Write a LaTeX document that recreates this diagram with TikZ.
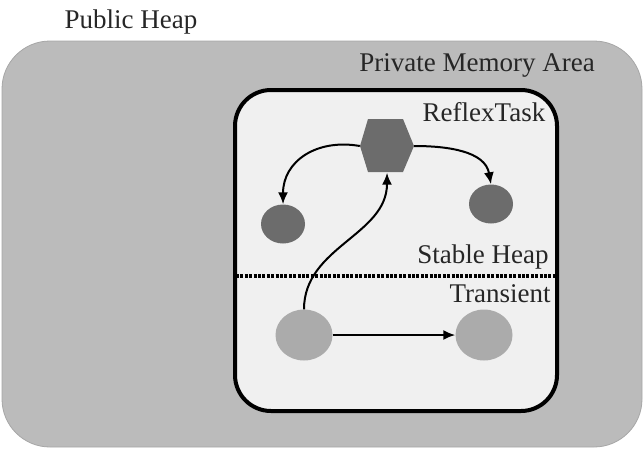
\documentclass[tikz,border=0pt]{standalone}
\usepackage{fontspec}
\setmainfont{Liberation Serif}
\usetikzlibrary{arrows.meta}
\definecolor{outerg}{HTML}{BBBBBB}
\definecolor{innerg}{HTML}{F0F0F0}
\definecolor{darkg}{HTML}{6C6C6C}
\definecolor{lightg}{HTML}{ABABAB}
\tikzset{
  lbl/.style={inner sep=0pt, font=\fontsize{27}{31}\selectfont, text=black!85},
  darkobj/.style={ellipse, fill=darkg, minimum width=44pt, minimum height=39pt, inner sep=0pt},
  lightobj/.style={ellipse, fill=lightg, minimum width=57pt, minimum height=51pt, inner sep=0pt},
  ref/.style={-{Latex[length=12pt,width=10pt]}, line width=2pt, black},
}
\usetikzlibrary{shapes.geometric}
\begin{document}
\begin{tikzpicture}[x=1pt,y=-1pt]
\useasboundingbox (0,0) rectangle (644,450);
% outer public heap
\draw[fill=outerg, draw=gray!70, line width=0.8pt, rounded corners=48pt] (2,41) rectangle (642,447);
\node[lbl] (pub) at (131,22) {Public Heap};
\node[lbl] (priv) at (477,65) {Private Memory Area};
% private area
\draw[fill=innerg, draw=black, line width=4pt, rounded corners=36pt] (235,90) rectangle (557,411);
\node[lbl] (rt) at (484,112) {ReflexTask};
\node[lbl] (sh) at (483,257) {Stable Heap};
\node[lbl] (tr) at (500,294) {Transient};
% divider
\draw[line width=3.4pt, dash pattern=on 3pt off 1.4pt] (236,276) -- (556,276);
% hexagon
\fill[darkg] (360,146) -- (368,119) -- (403,119) -- (414,146) -- (403,172) -- (368,172) -- cycle;
\node[minimum width=54pt, minimum height=53pt, inner sep=0pt] (hex) at (387,146) {};
\node[darkobj] (ld) at (283,224) {};
\node[darkobj] (rd) at (491,204) {};
\node[lightobj] (lt) at (304,335) {};
\node[lightobj] (rt2) at (484,335) {};
% connectors
\draw[ref] (hex.west) to[out=170,in=90,looseness=1.15] (ld.north);
\draw[ref] (hex.east) to[out=0,in=100] (rd.north);
\draw[ref] (lt.north) to[out=90,in=-90] (hex.south);
\draw[ref] (lt.east) -- (rt2.west);
\end{tikzpicture}
\end{document}
